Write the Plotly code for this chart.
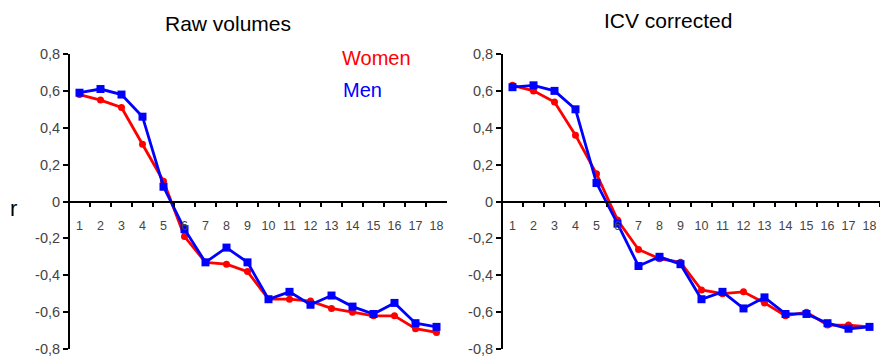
import plotly.graph_objects as go

categories = [str(i) for i in range(1, 19)]
women_raw = [0.58, 0.55, 0.51, 0.31, 0.11, -0.19, -0.33, -0.34, -0.38, -0.53, -0.53, -0.54, -0.58, -0.60, -0.62, -0.62, -0.69, -0.71]
men_raw = [0.59, 0.61, 0.58, 0.46, 0.08, -0.15, -0.33, -0.25, -0.33, -0.53, -0.49, -0.56, -0.51, -0.57, -0.61, -0.55, -0.66, -0.68]
women_icv = [0.63, 0.60, 0.54, 0.36, 0.15, -0.10, -0.26, -0.31, -0.33, -0.48, -0.50, -0.49, -0.55, -0.62, -0.60, -0.67, -0.67, -0.68]
men_icv = [0.62, 0.63, 0.60, 0.50, 0.10, -0.12, -0.35, -0.30, -0.34, -0.53, -0.49, -0.58, -0.52, -0.61, -0.61, -0.66, -0.69, -0.68]
y_tickvals = [0.8, 0.6, 0.4, 0.2, 0, -0.2, -0.4, -0.6, -0.8]
y_ticktext = ["0,8", "0,6", "0,4", "0,2", "0", "-0,2", "-0,4", "-0,6", "-0,8"]

RED = "#ff0000"
BLUE = "#0000ff"
W, H = 880, 358
FONT = "Liberation Sans, Arial, sans-serif"
GRAY = "#444444"

fig = go.Figure()

def add_pair(women, men, xa, ya):
    fig.add_trace(go.Scatter(x=categories, y=women, mode="lines+markers", xaxis=xa, yaxis=ya,
                             line=dict(color=RED, width=2.8), marker=dict(color=RED, size=7, symbol="circle"),
                             showlegend=False, cliponaxis=False))
    fig.add_trace(go.Scatter(x=categories, y=men, mode="lines+markers", xaxis=xa, yaxis=ya,
                             line=dict(color=BLUE, width=2.8), marker=dict(color=BLUE, size=8, symbol="square"),
                             showlegend=False, cliponaxis=False))

add_pair(women_raw, men_raw, "x", "y")
add_pair(women_icv, men_icv, "x2", "y2")

def py(v):
    return (H - v) / H

ytop, ybot, yzero = 54, 349, 201.5
ydom = [py(ybot), py(ytop)]

xcommon = dict(type="category", categoryorder="array", categoryarray=categories,
               range=[-0.5, 17.5], showline=True, linecolor="black", linewidth=2,
               ticks="outside", ticklen=4, tickwidth=1.5, tickcolor="black", tickson="boundaries",
               tickangle=0, showgrid=False, zeroline=False, anchor="free", position=py(yzero),
               automargin=False, ticklabelstandoff=12,
               tickfont=dict(size=12.5, color=GRAY, family=FONT), fixedrange=True)
ycommon = dict(range=[-0.8, 0.8], tickvals=y_tickvals, ticktext=y_ticktext,
               showline=True, linecolor="black", linewidth=2, ticks="outside", ticklen=5,
               tickwidth=2, tickcolor="black", showgrid=False, zeroline=False, automargin=False,
               tickfont=dict(size=14.5, color=GRAY, family=FONT), domain=ydom, fixedrange=True)

fig.update_layout(
    width=W, height=H, margin=dict(l=0, r=0, t=0, b=0, pad=0, autoexpand=False),
    paper_bgcolor="white", plot_bgcolor="rgba(0,0,0,0)",
    font=dict(family=FONT),
    xaxis=dict(domain=[69 / W, 447 / W], **xcommon),
    yaxis=dict(anchor="free", position=69 / W, **ycommon),
    xaxis2=dict(domain=[502 / W, 880 / W], **xcommon),
    yaxis2=dict(anchor="free", position=502 / W, **ycommon),
    annotations=[
        dict(text="Raw volumes", x=228 / W, y=py(23), xref="paper", yref="paper", showarrow=False,
             font=dict(size=21, color="black", family=FONT), xanchor="center", yanchor="middle"),
        dict(text="ICV corrected", x=668 / W, y=py(20), xref="paper", yref="paper", showarrow=False,
             font=dict(size=21, color="black", family=FONT), xanchor="center", yanchor="middle"),
        dict(text="Women", x=340 / W, y=py(58), xref="paper", yref="paper", showarrow=False,
             font=dict(size=20, color=RED, family=FONT), xanchor="left", yanchor="middle"),
        dict(text="Men", x=341 / W, y=py(90), xref="paper", yref="paper", showarrow=False,
             font=dict(size=20, color=BLUE, family=FONT), xanchor="left", yanchor="middle"),
        dict(text="r", x=14 / W, y=py(208), xref="paper", yref="paper", showarrow=False,
             font=dict(size=22, color="black", family=FONT), xanchor="center", yanchor="middle"),
    ],
)

fig.write_html("out.html", config={"displayModeBar": False},
               post_script="document.body.style.margin='0';document.body.style.overflow='hidden';")
